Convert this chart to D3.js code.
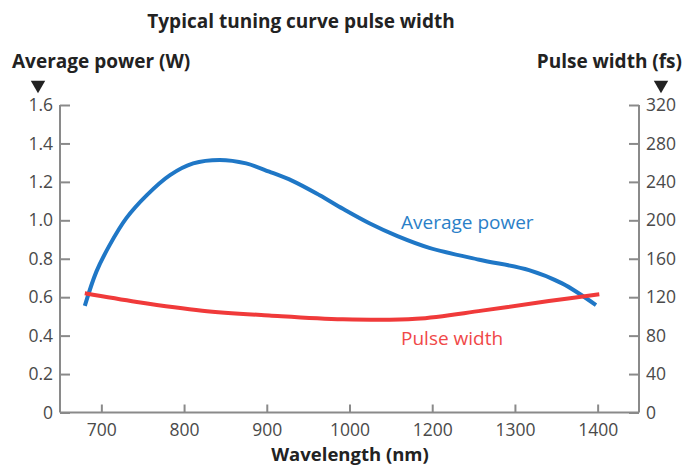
<!DOCTYPE html>
<html>
<head>
<meta charset="utf-8" />
<script src="https://d3js.org/d3.v7.min.js"></script>
<style>
body { margin: 0; background: #fff; }
text { font-family: "Open Sans", sans-serif; }
.tick-label { font-size: 17.5px; fill: #4a4a4a; }
.bold { font-weight: bold; fill: #222; font-size: 19px; }
</style>
</head>
<body>
<script>
// wavelength ticks (labels as printed on the chart, evenly spaced)
var xTicks = [700, 800, 900, 1000, 1200, 1300, 1400];
var powerTicks = [0, 0.2, 0.4, 0.6, 0.8, 1.0, 1.2, 1.4, 1.6];
var pulseTicks = [0, 40, 80, 120, 160, 200, 240, 280, 320];

// average power (W) vs wavelength (nm)
var powerNm = [680, 694, 710, 730, 755, 783, 811, 843, 875, 903, 931, 964, 992, 1048, 1116, 1193, 1257, 1317, 1357, 1398];
var powerW  = [0.555, 0.733, 0.871, 1.01, 1.131, 1.235, 1.296, 1.314, 1.296, 1.253, 1.205, 1.13, 1.06, 0.985, 0.918, 0.857, 0.795, 0.741, 0.672, 0.559];

// pulse width (fs) vs wavelength (nm)
var pulseNm = [680, 743, 822, 903, 992, 1161, 1260, 1341, 1402];
var pulseFs = [124, 115, 106, 101, 97, 97.5, 106, 116, 123];

var W = 692, H = 468;
var margin = {top: 105, right: 53, bottom: 55.5, left: 60};

var svg = d3.select("body").append("svg")
    .attr("width", W)
    .attr("height", H);

// ticks are evenly spaced even though the labels skip 1100
var step = (W - margin.left - margin.right) / 7;
var x = d3.scaleLinear()
    .domain([650].concat(xTicks, [1450]))
    .range([margin.left].concat(xTicks.map(function(d, i) { return margin.left + (i + 0.5) * step; }), [W - margin.right]));

var yL = d3.scaleLinear().domain([0, 1.6]).range([H - margin.bottom, margin.top]);
var yR = d3.scaleLinear().domain([0, 320]).range([H - margin.bottom, margin.top]);

var axisColor = "#8a8a8a";

// left axis
var gL = svg.append("g")
    .attr("transform", "translate(" + margin.left + ",0)")
    .call(d3.axisLeft(yL).tickValues(powerTicks).tickSize(-10).tickPadding(7)
      .tickFormat(function(d) { return d === 0 ? "0" : d3.format(".1f")(d); }));

// right axis
var gR = svg.append("g")
    .attr("transform", "translate(" + (W - margin.right) + ",0)")
    .call(d3.axisRight(yR).tickValues(pulseTicks).tickSize(-10).tickPadding(7));

// bottom axis
var gB = svg.append("g")
    .attr("transform", "translate(0," + (H - margin.bottom) + ")")
    .call(d3.axisBottom(x).tickValues(xTicks).tickSize(-8).tickPadding(11).tickFormat(d3.format("d")));

[gL, gR, gB].forEach(function(g) {
  g.select(".domain").attr("stroke", axisColor).attr("stroke-width", 2);
  g.selectAll(".tick line").attr("stroke", axisColor).attr("stroke-width", 2);
  g.selectAll(".tick text").attr("class", "tick-label").attr("font-size", null).attr("font-family", null);
});
gL.select(".domain").attr("d", "M0," + margin.top + "V" + (H - margin.bottom));
gR.select(".domain").attr("d", "M0," + margin.top + "V" + (H - margin.bottom));
gB.select(".domain").attr("d", "M" + margin.left + ",0H" + (W - margin.right));

// curves
var line = d3.line().curve(d3.curveCatmullRom.alpha(0.5));

svg.append("path")
    .attr("d", line(powerNm.map(function(d, i) { return [x(d), yL(powerW[i])]; })))
    .attr("fill", "none")
    .attr("stroke", "#1f77c6")
    .attr("stroke-width", 4);

svg.append("path")
    .attr("d", line(pulseNm.map(function(d, i) { return [x(d), yR(pulseFs[i])]; })))
    .attr("fill", "none")
    .attr("stroke", "#f03a3a")
    .attr("stroke-width", 4);

// series labels
svg.append("text").attr("x", 401).attr("y", 229).attr("font-size", 19)
    .attr("fill", "#2a80c8").text("Average power");
svg.append("text").attr("x", 401).attr("y", 345).attr("font-size", 19)
    .attr("fill", "#f04848").text("Pulse width");

// titles
svg.append("text").attr("class", "bold").attr("x", 301).attr("y", 28)
    .attr("text-anchor", "middle").text("Typical tuning curve pulse width");
svg.append("text").attr("class", "bold").attr("x", 12).attr("y", 68)
    .text("Average power (W)");
svg.append("text").attr("class", "bold").attr("x", 682).attr("y", 68)
    .attr("text-anchor", "end").text("Pulse width (fs)");
svg.append("text").attr("class", "bold").attr("x", 350).attr("y", 461)
    .attr("text-anchor", "middle").attr("font-size", 18.5).style("font-size", "18.5px")
    .text("Wavelength (nm)");

// arrows under the axis titles
var tri = d3.symbol().type(d3.symbolTriangle).size(90);
[[38, 85], [661, 85]].forEach(function(p) {
  svg.append("path").attr("d", tri())
    .attr("fill", "#222")
    .attr("transform", "translate(" + p[0] + "," + p[1] + ") rotate(180)");
});
</script>
</body>
</html>
